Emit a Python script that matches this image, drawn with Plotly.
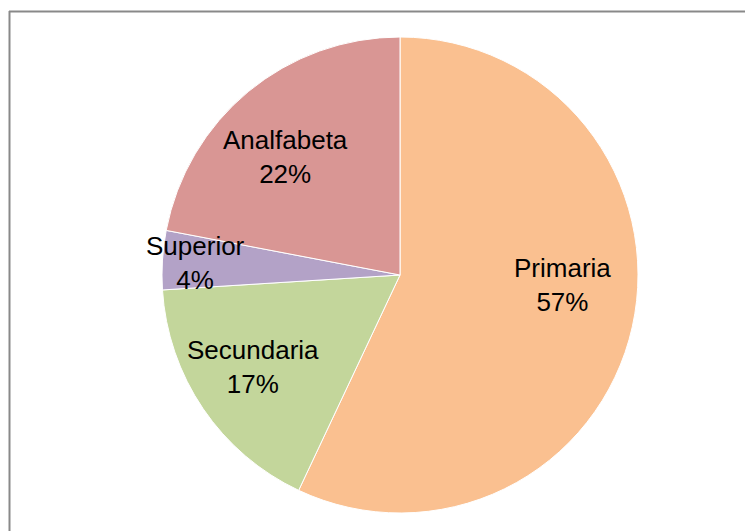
import math
import plotly.graph_objects as go

labels = ['Primaria', 'Secundaria', 'Superior', 'Analfabeta']
values = [57, 17, 4, 22]
colors = ['#FAC090', '#C3D69B', '#B3A2C7', '#D99694']

# label placement (fraction of radius, angle nudge in degrees), Excel best-fit style
label_frac = [0.686, 0.73, 0.86, 0.69]
label_nudge = [-9.1, 2.2, -0.2, -4.7]

W, H = 753, 531
cx, cy, r = 392, 267, 238  # page body adds an 8px offset

fig = go.Figure(go.Pie(
    labels=labels, values=values, sort=False, direction='clockwise', rotation=0,
    marker=dict(colors=colors, line=dict(color='white', width=1)),
    textinfo='none', hoverinfo='label+percent',
    domain=dict(x=[(cx - r) / W, (cx + r) / W], y=[1 - (cy + r) / H, 1 - (cy - r) / H]),
    showlegend=False,
))

total = sum(values)
start = 0
for lab, v, f, nd in zip(labels, values, label_frac, label_nudge):
    mid = math.radians((start + v / 2) / total * 360 + nd)
    start += v
    x = cx + f * r * math.sin(mid)
    y = cy - f * r * math.cos(mid)
    fig.add_annotation(x=x / W, y=1 - y / H, xref='paper', yref='paper',
                       text=f'{lab}<br>{round(v / total * 100)}%', showarrow=False,
                       font=dict(family='Liberation Sans, Arial', size=26, color='black'),
                       xanchor='center', yanchor='middle', align='center')

# chart frame (top and left edges visible)
fig.add_shape(type='line', xref='paper', yref='paper', x0=1 / W, x1=744 / W,
              y0=1 - 3.5 / H, y1=1 - 3.5 / H, line=dict(color='#898989', width=2))
fig.add_shape(type='line', xref='paper', yref='paper', x0=1.5 / W, x1=1.5 / W,
              y0=1 - 3 / H, y1=0, line=dict(color='#898989', width=2))

fig.update_layout(width=W, height=H, margin=dict(l=0, r=0, t=0, b=0),
                  paper_bgcolor='white', plot_bgcolor='white')
fig.write_html('out.html')
